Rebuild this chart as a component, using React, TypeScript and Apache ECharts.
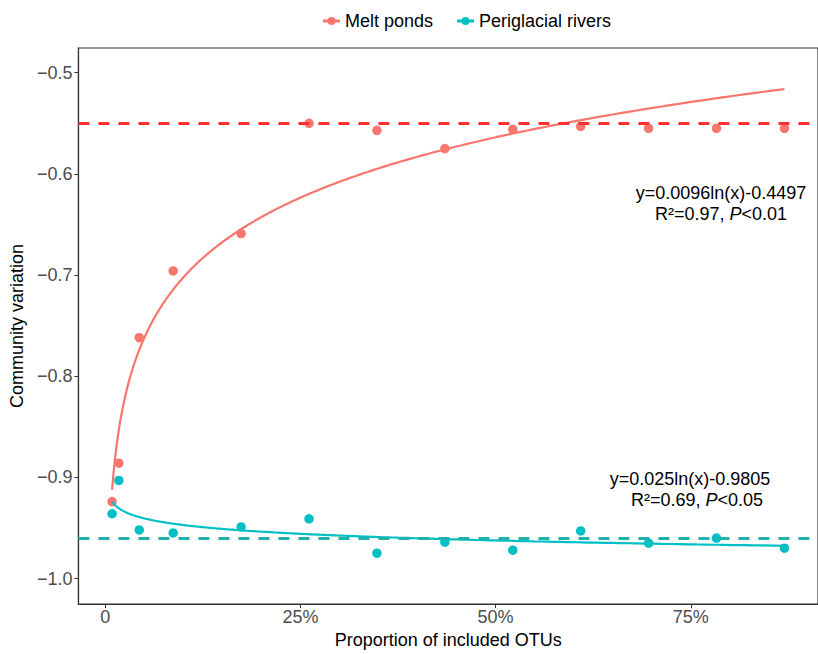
import React, { useEffect, useRef } from "react";
import * as echarts from "echarts";

// Proportion of included OTUs (%)
const xValues = [0.87, 1.74, 4.35, 8.7, 17.4, 26.1, 34.8, 43.5, 52.2, 60.9, 69.6, 78.3, 87.0];
// Community variation
const meltPonds = [-0.924, -0.886, -0.762, -0.696, -0.659, -0.550, -0.557, -0.575, -0.556, -0.553, -0.555, -0.555, -0.555];
const periglacialRivers = [-0.936, -0.903, -0.952, -0.955, -0.949, -0.941, -0.975, -0.964, -0.972, -0.953, -0.965, -0.960, -0.970];
// Horizontal reference lines
const meltBaseline = -0.5526;
const riverBaseline = -0.962;
// Axis ticks
const xTicks = [0, 25, 50, 75];
const yTicks = [-1.0, -0.9, -0.8, -0.7, -0.6, -0.5];
// Annotation texts
const meltEquation = "y=0.0096ln(x)-0.4497";
const meltStats = ["R²=0.97, ", "P", "<0.01"];
const riverEquation = "y=0.025ln(x)-0.9805";
const riverStats = ["R²=0.69, ", "P", "<0.05"];

const RED = "#F8766D";
const TEAL = "#00BFC4";
const FONT = "'Liberation Sans', Arial, sans-serif";

// Least-squares fit of y = a*ln(x) + b (what geom_smooth drew)
function logFit(xs: number[], ys: number[]) {
  const L = xs.map((v) => Math.log(v));
  const n = xs.length;
  const mL = L.reduce((s, v) => s + v, 0) / n;
  const mY = ys.reduce((s, v) => s + v, 0) / n;
  let sxy = 0;
  let sxx = 0;
  for (let i = 0; i < n; i++) {
    sxy += (L[i] - mL) * (ys[i] - mY);
    sxx += (L[i] - mL) * (L[i] - mL);
  }
  const a = sxy / sxx;
  return { a, b: mY - a * mL };
}

function fitCurve(xs: number[], ys: number[]) {
  const { a, b } = logFit(xs, ys);
  const lo = Math.min(...xs);
  const hi = Math.max(...xs);
  const pts: number[][] = [];
  const n = 300;
  for (let i = 0; i <= n; i++) {
    const x = lo * Math.pow(hi / lo, i / n);
    pts.push([x, a * Math.log(x) + b]);
  }
  return pts;
}

const legendIcon =
  "path://M0,2.5L17,2.5L17,5.5L0,5.5Z M4.5,4A4,4 0 1,1 12.5,4A4,4 0 1,1 4.5,4Z";

export default function App() {
  const ref = useRef<HTMLDivElement>(null);

  useEffect(() => {
    if (!ref.current) return;
    const chart = echarts.init(ref.current, undefined, { renderer: "svg" });

    const fmtY = (v: number) => v.toFixed(1).replace("-", "\u2212");

    const statRich = {
      n: { fontSize: 18, fontFamily: FONT, color: "#000" },
      i: { fontSize: 18, fontFamily: FONT, color: "#000", fontStyle: "italic" as const },
    };

    chart.setOption({
      animation: false,
      backgroundColor: "#fff",
      grid: {
        left: 73,
        right: -10,
        top: 48,
        bottom: 42,
        show: true,
        borderColor: "#333",
        borderWidth: 1.2,
        backgroundColor: "transparent",
      },
      legend: {
        data: ["Melt ponds", "Periglacial rivers"],
        left: 318,
        top: 7,
        icon: legendIcon,
        itemWidth: 17,
        itemHeight: 8,
        itemGap: 24,
        textStyle: { fontSize: 18, fontFamily: FONT, color: "#000" },
      },
      xAxis: {
        type: "value",
        min: -3.44,
        max: 91.3,
        splitLine: { show: false },
        axisLine: { show: true, onZero: false, lineStyle: { color: "#333", width: 1.2 } },
        axisTick: { show: true, length: 4, customValues: xTicks, lineStyle: { color: "#333" } },
        axisLabel: {
          customValues: xTicks,
          formatter: (v: number) => (v === 0 ? "0" : `${v}%`),
          fontSize: 18,
          fontFamily: FONT,
          color: "#4D4D4D",
          margin: 4,
        },
        name: "Proportion of included OTUs",
        nameLocation: "middle",
        nameGap: 23,
        nameTextStyle: { fontSize: 18, fontFamily: FONT, color: "#000" },
      },
      yAxis: {
        type: "value",
        min: -1.0253,
        max: -0.4756,
        splitLine: { show: false },
        axisLine: { show: true, onZero: false, lineStyle: { color: "#333", width: 1.2 } },
        axisTick: { show: true, length: 4, customValues: yTicks, lineStyle: { color: "#333" } },
        axisLabel: {
          customValues: yTicks,
          formatter: fmtY,
          fontSize: 18,
          fontFamily: FONT,
          color: "#4D4D4D",
          margin: 6,
        },
        name: "Community variation",
        nameLocation: "middle",
        nameGap: 44,
        nameTextStyle: { fontSize: 18, fontFamily: FONT, color: "#000" },
      },
      series: [
        {
          name: "baselines",
          type: "line",
          data: [],
          silent: true,
          z: 1,
          markLine: {
            silent: true,
            symbol: "none",
            label: { show: false },
            data: [
              { yAxis: meltBaseline, lineStyle: { color: "#FF3030", width: 3, type: [11, 9] } },
              { yAxis: riverBaseline, lineStyle: { color: "#20B2AA", width: 3, type: [11, 9] } },
            ],
          },
        },
        {
          name: "Melt ponds",
          type: "scatter",
          data: xValues.map((x, i) => [x, meltPonds[i]]),
          symbol: "circle",
          symbolSize: 9.5,
          itemStyle: { color: RED, opacity: 1 },
          z: 3,
        },
        {
          name: "Periglacial rivers",
          type: "scatter",
          data: xValues.map((x, i) => [x, periglacialRivers[i]]),
          symbol: "circle",
          symbolSize: 9.5,
          itemStyle: { color: TEAL, opacity: 1 },
          z: 3,
        },
        {
          name: "Melt ponds fit",
          type: "line",
          data: fitCurve(xValues, meltPonds),
          showSymbol: false,
          symbol: "none",
          lineStyle: { color: RED, width: 2.2 },
          z: 4,
        },
        {
          name: "Periglacial rivers fit",
          type: "line",
          data: fitCurve(xValues, periglacialRivers),
          showSymbol: false,
          symbol: "none",
          lineStyle: { color: TEAL, width: 2.2 },
          z: 4,
        },
      ],
      graphic: [
        {
          type: "text",
          x: 721,
          y: 193,
          style: {
            text: meltEquation,
            fontSize: 18,
            fontFamily: FONT,
            fill: "#000",
            align: "center",
            verticalAlign: "middle",
          },
        },
        {
          type: "text",
          x: 721,
          y: 214,
          style: {
            text: `{n|${meltStats[0]}}{i|${meltStats[1]}}{n|${meltStats[2]}}`,
            rich: statRich,
            align: "center",
            verticalAlign: "middle",
          },
        },
        {
          type: "text",
          x: 690,
          y: 479,
          style: {
            text: riverEquation,
            fontSize: 18,
            fontFamily: FONT,
            fill: "#000",
            align: "center",
            verticalAlign: "middle",
          },
        },
        {
          type: "text",
          x: 697,
          y: 500,
          style: {
            text: `{n|${riverStats[0]}}{i|${riverStats[1]}}{n|${riverStats[2]}}`,
            rich: statRich,
            align: "center",
            verticalAlign: "middle",
          },
        },
      ],
    });

    return () => chart.dispose();
  }, []);

  return <div ref={ref} style={{ width: 818, height: 654, position: "absolute", left: 0, top: 0 }} />;
}
